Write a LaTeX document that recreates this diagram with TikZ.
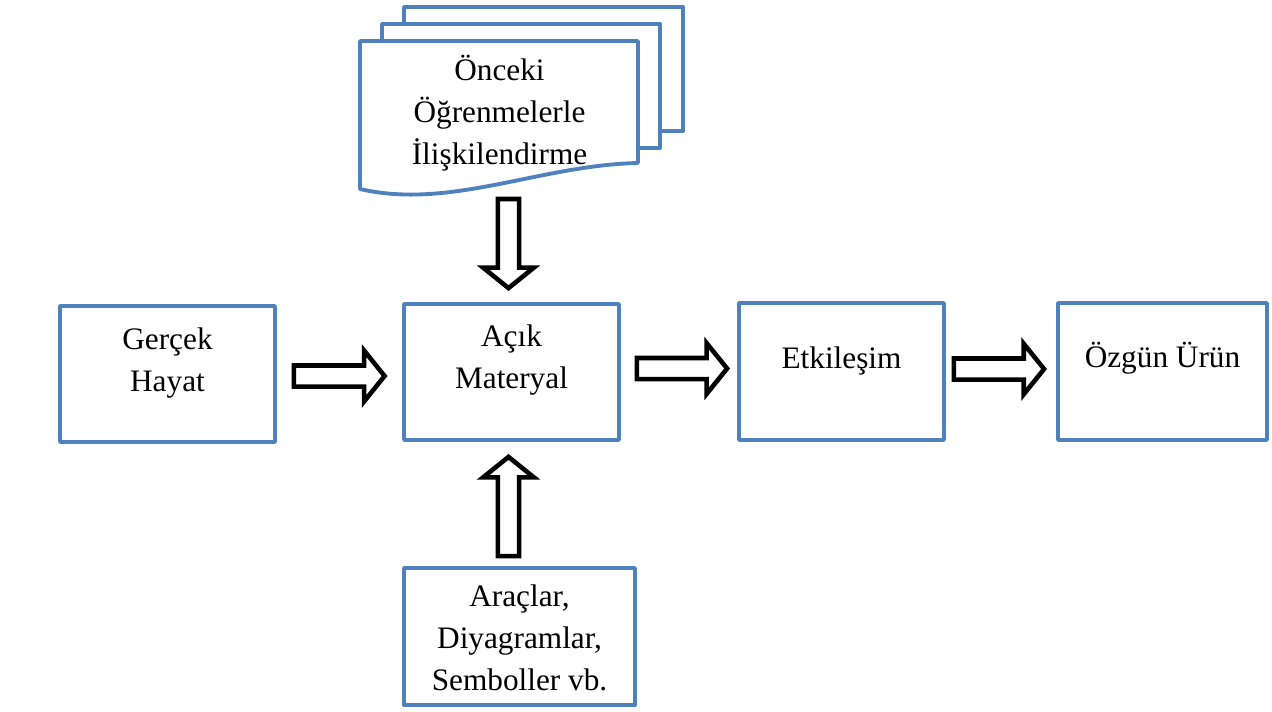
\documentclass[tikz,border=0pt]{standalone}
\usepackage{fontspec}
\setmainfont{Liberation Serif}
\usepackage{tikz}
\usetikzlibrary{calc}

\definecolor{boxblue}{RGB}{79,129,189}
\newcommand{\arrshaft}{6pt}
\newcommand{\arrhead}{14.4pt}
\newcommand{\arrlen}{11.6pt}

\tikzset{
	box/.style={draw=boxblue, line width=2.2pt, line join=round, fill=white, inner sep=0pt},
	txt/.style={align=center, font=\fontsize{17.8}{24}\selectfont},
	hollow/.style={draw=black, fill=white, line width=2.6pt, line join=miter,
		to path={($(\tikztotarget)!\arrlen!(\tikztostart)$) coordinate (hb)
			($(\tikztostart)!\arrshaft!90:(\tikztotarget)$)
			-- ($(hb)!\arrshaft!90:(\tikztotarget)$)
			-- ($(hb)!\arrhead!90:(\tikztotarget)$)
			-- (\tikztotarget)
			-- ($(hb)!\arrhead!-90:(\tikztotarget)$)
			-- ($(hb)!\arrshaft!-90:(\tikztotarget)$)
			-- ($(\tikztostart)!\arrshaft!-90:(\tikztotarget)$)
			-- cycle}}
}

\begin{document}
\begin{tikzpicture}[x=0.02cm, y=-0.02cm]
	\useasboundingbox (0,0) rectangle (1272,711);
	\draw [box] (404,7) rectangle (683,131);
	\draw [box] (382,24) rectangle (660,148);
	\draw [box] (360,41) -- (638,41) -- (638,163) .. controls (540,165) and (450,210) .. (360,189) -- cycle;
	\node [txt] (onceki) at (499.5,113) {Önceki\\Öğrenmelerle\\İlişkilendirme};
	\coordinate (onceki-b) at (508.5,199);
	\node [box, minimum width=4.3cm, minimum height=2.72cm, label={[txt, yshift=0.226cm]center:{Gerçek\\Hayat}}] (gercek) at (167.5,374) {};
	\node [box, minimum width=4.3cm, minimum height=2.72cm, label={[txt, yshift=0.236cm]center:{Açık\\Materyal}}] (acik) at (511.5,372) {};
	\node [box, minimum width=4.1cm, minimum height=2.74cm, label={[txt, yshift=0.22cm]center:Etkileşim}] (etkilesim) at (841.5,371.5) {};
	\node [box, minimum width=4.18cm, minimum height=2.74cm, label={[txt, yshift=0.276cm]center:Özgün Ürün}] (ozgun) at (1162.5,371.5) {};
	\node [box, minimum width=4.62cm, minimum height=2.74cm, label={[txt, yshift=-0.028cm]center:{Araçlar,\\Diyagramlar,\\Semboller vb.}}] (araclar) at (519.5,636.5) {};
	\draw [hollow] (onceki-b) to ($(acik.north)+(-3,-14)$);
	\draw [hollow] ($(gercek.east)+(17,2)$) to ($(acik.west)+(-17.5,4)$);
	\draw [hollow] ($(acik.east)+(16,-3.5)$) to ($(etkilesim.west)+(-10,-3)$);
	\draw [hollow] ($(etkilesim.east)+(8,-2.5)$) to ($(ozgun.west)+(-12,-2.5)$);
	\draw [hollow] ($(acik.south |- araclar.north)+(-3,-10)$) to ($(acik.south)+(-3,15)$);
\end{tikzpicture}
\end{document}
